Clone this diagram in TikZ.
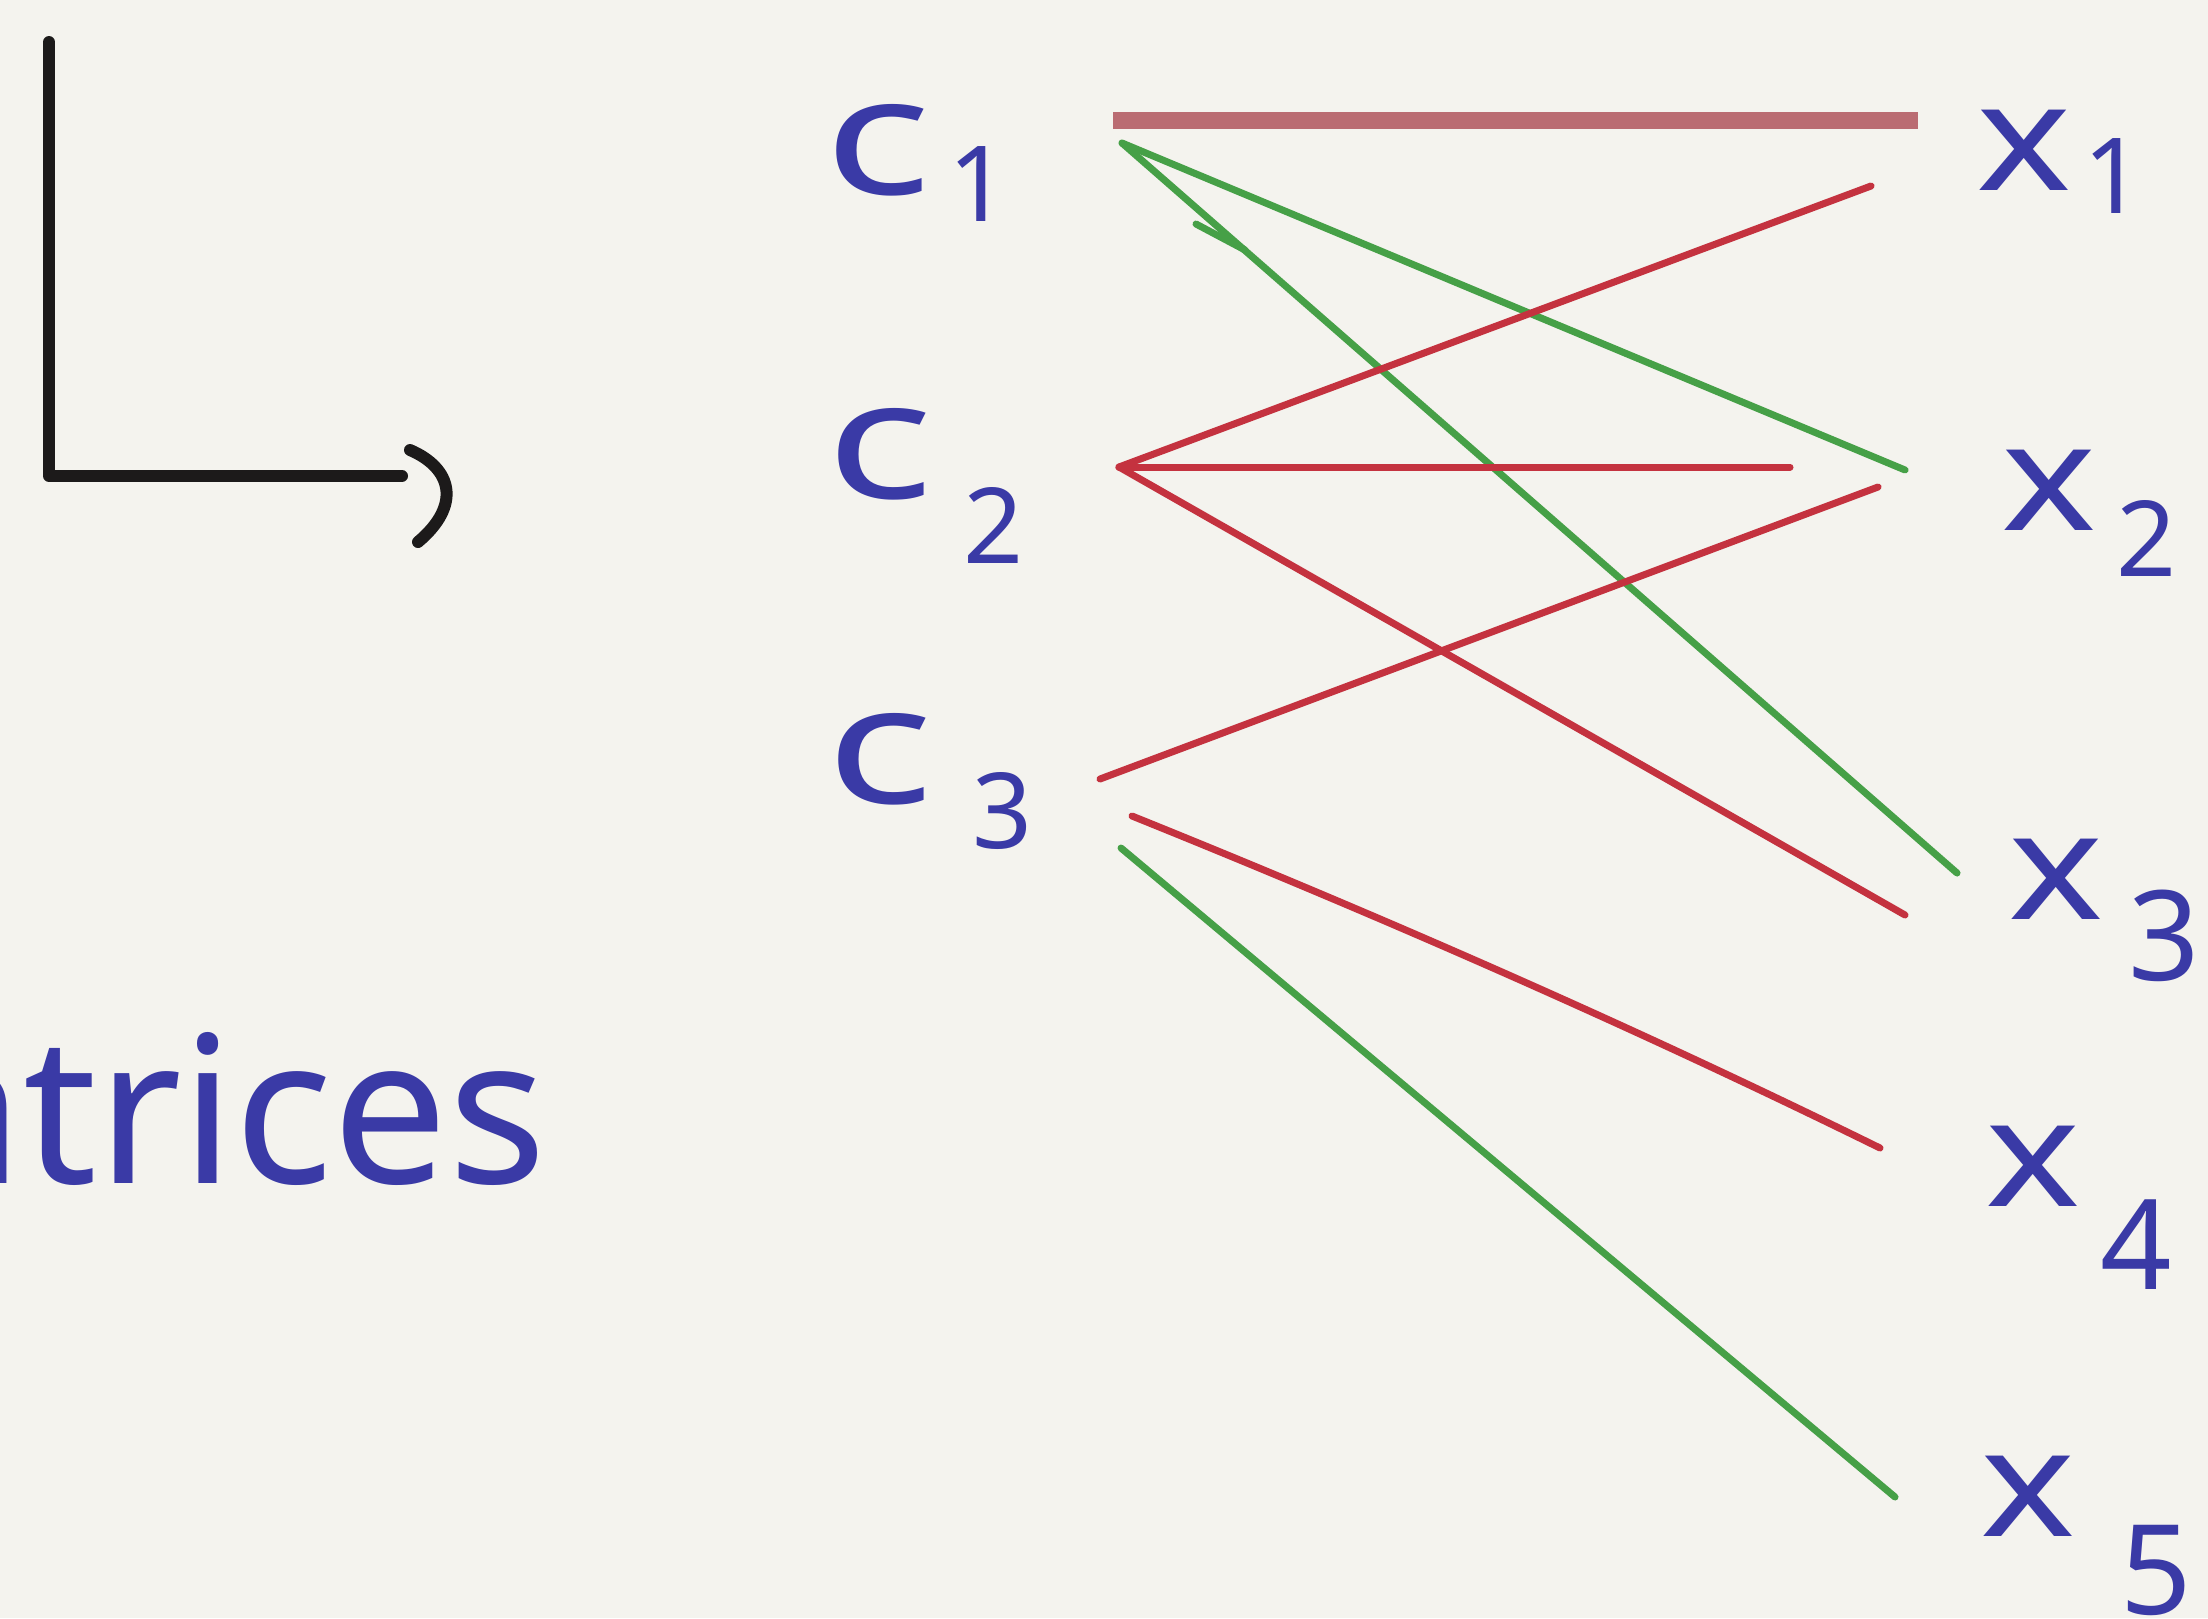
\documentclass[tikz,border=0pt]{standalone}
\usepackage{fontspec}
\setmainfont{Noto Sans}
\definecolor{bgc}{HTML}{F4F3EE}
\definecolor{ink}{HTML}{3A3AA6}
\definecolor{redl}{HTML}{C4323F}
\definecolor{redm}{HTML}{BA6C72}
\definecolor{grn}{HTML}{46A047}
\definecolor{blk}{HTML}{1C1A1A}
\begin{document}
\begin{tikzpicture}[x=1pt,y=-1pt,
  clbl/.style={text=ink,inner sep=0pt,font=\fontsize{165}{165}\selectfont,xscale=1.35},
  xlbl/.style={text=ink,inner sep=0pt,font=\fontsize{150}{150}\selectfont,xscale=1.2},
  sublbl/.style={text=ink,inner sep=0pt,font=\fontsize{105}{105}\selectfont},
  bigsub/.style={text=ink,inner sep=0pt,font=\fontsize{125}{125}\selectfont},
  rline/.style={draw=redl,line width=7pt,line cap=round},
  gline/.style={draw=grn,line width=7pt,line cap=round},
  mline/.style={draw=redm,line width=17pt},
  axisline/.style={draw=blk,line width=12pt,line cap=round,line join=round}]
\fill[bgc] (0,0) rectangle (2208,1618);
\clip (0,0) rectangle (2208,1618);
% axis sketch
\draw[axisline] (49,42) -- (49,476) -- (402,476);
\draw[axisline] (410,450) .. controls (452,468) and (462,505) .. (418,542);
% partial word
\node[text=ink,inner sep=0pt,font=\fontsize{205}{205}\selectfont,anchor=base east] (word) at (547,1183) {atrices};
% left labels
\node[clbl] (c1) at (878,150) {c};
\node[sublbl] (c1s) at (979,184) {1};
\node[clbl] (c2) at (880,454) {c};
\node[sublbl] (c2s) at (994,525) {2};
\node[clbl] (c3) at (880,759) {c};
\node[sublbl] (c3s) at (1003,811) {3};
% right labels
\node[xlbl] (x1) at (2024,150) {x};
\node[sublbl] (x1s) at (2114,176) {1};
\node[xlbl] (x2) at (2049,490) {x};
\node[sublbl] (x2s) at (2147,538) {2};
\node[xlbl] (x3) at (2056,879) {x};
\node[bigsub] (x3s) at (2164,936) {3};
\node[xlbl] (x4) at (2033,1166) {x};
\node[bigsub] (x4s) at (2136,1245) {4};
\node[xlbl] (x5) at (2028,1496) {x};
\node[bigsub] (x5s) at (2156,1570) {5};
% connector ports
\coordinate (c1a) at (1113,120);
\coordinate (c1b) at (1122,143);
\coordinate (c2a) at (1119,467);
\coordinate (c3a) at (1100,779);
\coordinate (c3b) at (1132,816);
\coordinate (c3c) at (1121,848);
\coordinate (x1a) at (1918,120);
\coordinate (x1b) at (1871,186);
\coordinate (x2a) at (1905,470);
\coordinate (x2b) at (1878,487);
\coordinate (x2c) at (1790,467);
\coordinate (x3a) at (1957,873);
\coordinate (x3b) at (1905,915);
\coordinate (x4a) at (1880,1148);
\coordinate (x5a) at (1895,1497);
\coordinate (barb) at (1196,224);
\coordinate (barbend) at (1245,250);
% connectors
\draw[mline] (c1a) -- (x1a);
\draw[gline] (c1b) -- (x2a);
\draw[gline] (c1b) -- (x3a);
\draw[gline] (barb) -- (barbend);
\draw[rline] (c2a) -- (x1b);
\draw[rline] (c2a) -- (x2c);
\draw[rline] (c2a) -- (x3b);
\draw[rline] (c3a) -- (x2b);
\draw[rline] (c3b) .. controls (1390,920) and (1640,1030) .. (x4a);
\draw[gline] (c3c) -- (x5a);
\end{tikzpicture}
\end{document}
